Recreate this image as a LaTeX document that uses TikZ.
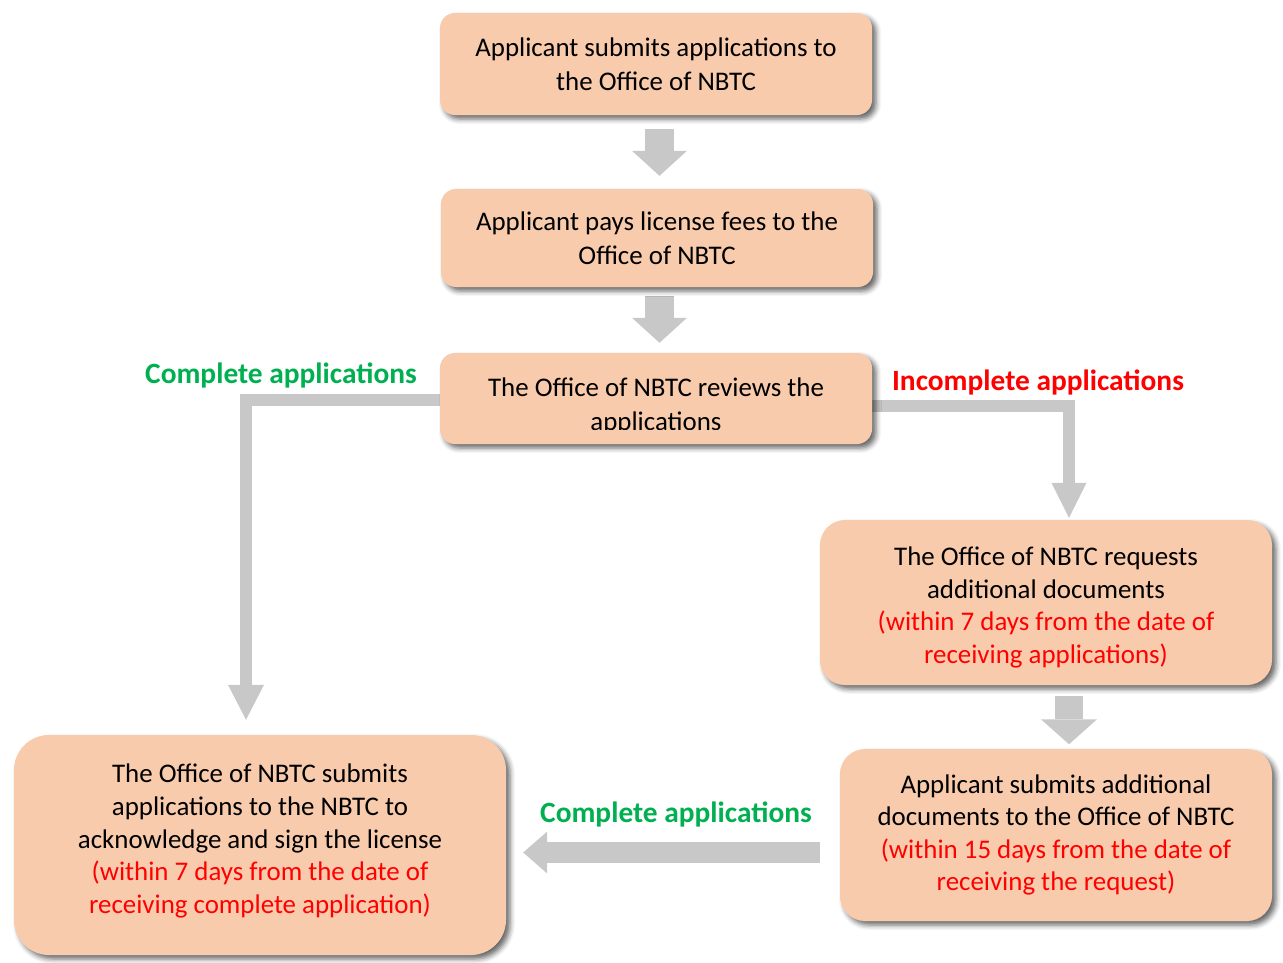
\documentclass[tikz,border=0pt]{standalone}
\usepackage{fontspec}
\setmainfont{Carlito}
\usetikzlibrary{arrows.meta,shadows.blur,calc}
\definecolor{boxfill}{HTML}{F8CBAD}
\definecolor{arrowgray}{HTML}{C8C8C8}
\definecolor{labelgreen}{HTML}{00B050}
\definecolor{labelred}{HTML}{FF0000}
\pgfdeclarelayer{background}
\pgfsetlayers{background,main}
\tikzset{
  stepbox/.style={fill=boxfill, draw=none, align=center, inner sep=0pt,
    font=\fontsize{26.9}{34}\selectfont,
    blur shadow={shadow xshift=4pt, shadow yshift=-4pt, shadow blur radius=5pt, shadow opacity=60}},
  tightbox/.style={font=\fontsize{26.9}{32.6}\selectfont},
  boxtext/.style={align=center, inner sep=0pt, font=\fontsize{26.9}{34}\selectfont},
  lbl/.style={inner sep=0pt, font=\fontsize{29.4}{35}\selectfont\bfseries},
  garrow/.style={draw=arrowgray, line join=miter, line cap=butt},
}
\newcommand{\rd}[1]{\textcolor{labelred}{#1}}
\begin{document}
\begin{tikzpicture}[x=1pt,y=-1pt]
\useasboundingbox (0,0) rectangle (1283,962);

% boxes
\node[stepbox, minimum width=432pt, minimum height=102pt, rounded corners=15pt] (b1) at (656,64)
  {Applicant submits applications to\\the Office of NBTC};
\node[stepbox, minimum width=432pt, minimum height=98pt, rounded corners=15pt] (b2) at (657,238)
  {Applicant pays license fees to the\\Office of NBTC};
\node[stepbox, minimum width=432pt, minimum height=91pt, rounded corners=15pt] (b3) at (656,398.5) {};
\begin{scope}
  \clip (440,353) rectangle (872,429);
  \node[boxtext] (t3) at (656,406) {The Office of NBTC reviews the\\applications};
\end{scope}
\node[stepbox, minimum width=452pt, minimum height=165pt, rounded corners=25pt,
  label={[boxtext, tightbox, yshift=-5pt]center:{The Office of NBTC requests\\additional documents\\\rd{(within 7 days from the date of}\\\rd{receiving applications)}}}]
  (b4) at (1046,602.5) {};
\node[stepbox, tightbox, minimum width=432pt, minimum height=172pt, rounded corners=25pt] (b5) at (1056,835)
  {Applicant submits additional\\documents to the Office of NBTC\\\rd{(within 15 days from the date of}\\\rd{receiving the request)}};
\node[stepbox, minimum width=492pt, minimum height=220pt, rounded corners=35pt,
  label={[boxtext, tightbox, yshift=4pt]center:{The Office of NBTC submits\\applications to the NBTC to\\acknowledge and sign the license\\\rd{(within 7 days from the date of}\\\rd{receiving complete application)}}}]
  (b6) at (260,845) {};

% labels
\node[lbl, text=labelgreen] (l1) at (281,375) {Complete applications};
\node[lbl, text=labelred] (l2) at (1038,382) {Incomplete applications};
\node[lbl, text=labelgreen] (l3) at (676,814) {Complete applications};

% connectors
\coordinate (a12) at ($(b1.south)+(3.5,0)$);
\coordinate (a23) at ($(b2.south)+(2.5,0)$);
\coordinate (a45) at ($(b4.south)+(23,0)$);
\coordinate (a56) at ($(b5.west)+(0,17.5)$);
\begin{pgfonlayer}{background}
\draw[garrow, line width=29pt, -{Triangle[length=25pt,width=55pt,line width=0pt]}, shorten <=14pt, shorten >=13pt]
  (a12) -- (a12 |- b2.north);
\draw[garrow, line width=29pt, -{Triangle[length=25pt,width=55pt,line width=0pt]}, shorten <=9pt, shorten >=10pt]
  (a23) -- (a23 |- b3.north);
\draw[garrow, line width=12pt, -{Triangle[length=35pt,width=36pt,line width=0pt]}, shorten >=15pt]
  ($(b3.west)+(0,1.5)$) -| ($(b6.north)+(-14,0)$);
\draw[garrow, line width=12pt, -{Triangle[length=35pt,width=35pt,line width=0pt]}, shorten >=2pt]
  ($(b3.east)+(0,7)$) -| ($(b4.north)+(23,0)$);
\draw[garrow, line width=28pt, -{Triangle[length=25pt,width=56pt,line width=0pt]}, shorten <=11pt, shorten >=4.5pt]
  (a45) -- (a45 |- b5.north);
\draw[garrow, line width=21pt, -{Triangle[length=24pt,width=42pt,line width=0pt]}, shorten <=20pt, shorten >=17pt]
  (a56) -- (a56 -| b6.east);
\end{pgfonlayer}
\end{tikzpicture}
\end{document}
